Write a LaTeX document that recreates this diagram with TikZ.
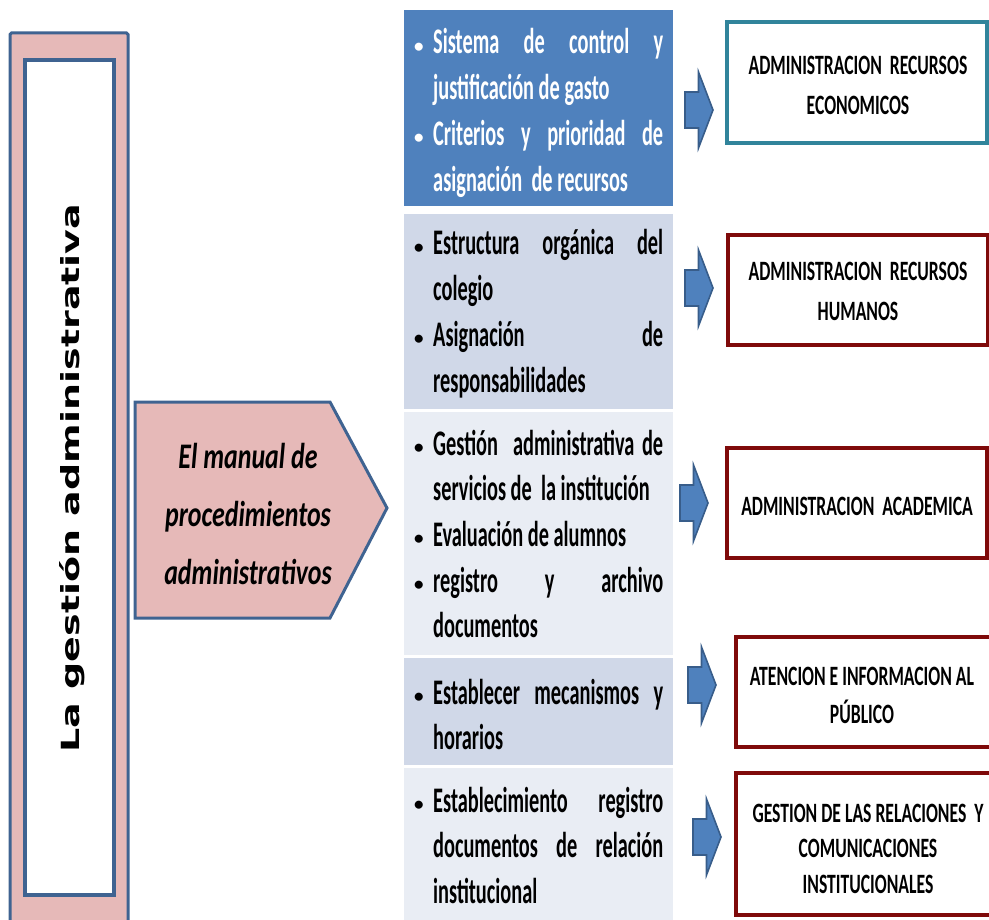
\documentclass[tikz,border=0pt]{standalone}
\usepackage{fontspec}
\setmainfont{Carlito}
\newfontfamily\panelfont[FakeStretch=0.565]{Carlito}
\newfontfamily\boxfont[FakeStretch=0.63]{Carlito}
\newfontfamily\pentfont[FakeStretch=0.72]{Carlito}
\newfontfamily\sidefont[FakeStretch=1.52]{DejaVu Sans}
\newfontfamily\bulletfont{Carlito}

\definecolor{navyedge}{HTML}{3F6391}
\definecolor{pinkfill}{HTML}{E6B9B8}
\definecolor{accblue}{HTML}{4F81BD}
\definecolor{banddark}{HTML}{D0D8E8}
\definecolor{bandlight}{HTML}{E9EDF4}
\definecolor{arrowedge}{HTML}{385D8A}
\definecolor{tealedge}{HTML}{31849B}
\definecolor{maroonedge}{HTML}{7F0A0A}

% bulleted line, continuation line and justified line inside a panel
\newcommand\smallbullet{{\bulletfont\fontsize{19}{19}\selectfont\raisebox{1.5pt}{\textbullet}}}
\newcommand\bl[1]{\hbox to 259pt{\hbox to 29pt{\hskip 10pt\smallbullet\hss}#1\hss}}
\newcommand\cl[1]{\hbox to 259pt{\hskip 29pt #1\hss}}
\newcommand\jl[1]{\makebox[230pt][s]{#1}}
\newcommand\plines[1]{\vtop{\baselineskip=45.7pt\lineskiplimit=-100pt\lineskip=0pt #1}}
% centred lines stacked at a fixed baseline distance
\newcommand\cln[1]{\hbox to 0pt{\hss#1\hss}}
\newcommand\clines[2]{\vtop{\baselineskip=#1\lineskiplimit=-100pt\lineskip=0pt #2}}

\tikzset{
  panel/.style={anchor=north west, inner sep=0pt, outer sep=0pt, minimum width=269pt},
  ptext/.style={anchor=base west, inner sep=0pt, font=\panelfont\bfseries\fontsize{36}{45.7}\selectfont},
  rbox/.style={draw, line width=4pt, fill=white, inner sep=0pt},
  btext/.style={anchor=base, inner sep=0pt, font=\boxfont\bfseries\fontsize{28}{38}\selectfont},
  blockarrow/.style={fill=accblue, draw=arrowedge, line width=1.6pt, line join=miter},
  barrow/.pic={\path[blockarrow] (-28,-18) -- (-14.5,-18) -- (-14.5,-38) -- (0,0)
      -- (-14.5,38) -- (-14.5,18) -- (-28,18) -- cycle;}
}

\begin{document}
\begin{tikzpicture}[x=1pt, y=-1pt]
\useasboundingbox (0,0) rectangle (989,920);

% side frame with the vertical title
\draw[fill=pinkfill, draw=navyedge, line width=3pt, rounded corners=1.5pt] (10,33) rectangle (128,930);
\draw[fill=white, draw=navyedge, line width=4pt] (25,60) rectangle (114,895);
\node[rotate=90, anchor=base, inner sep=0pt, font=\sidefont\bfseries\fontsize{25}{30}\selectfont]
  (title) at (79,478) {La gestión administrativa};

% pentagon with the manual title
\draw[fill=pinkfill, draw=navyedge, line width=3pt, line join=miter]
  (135,402) -- (330,402) -- (387,508) -- (330,618) -- (135,618) -- cycle;
\node[anchor=base, inner sep=0pt, font=\pentfont\bfseries\itshape\fontsize{36}{58}\selectfont]
  (manual) at (248,468) {\clines{58pt}{\cln{El manual de}\cln{procedimientos}\cln{administrativos}}};

% middle panels
\node[panel, fill=accblue, minimum height=196pt] (p1) at (404,10) {};
\node[panel, fill=banddark, minimum height=195pt] (p2) at (404,214) {};
\node[panel, fill=bandlight, minimum height=243pt] (p3) at (404,412) {};
\node[panel, fill=banddark, minimum height=107pt] (p4) at (404,658) {};
\node[panel, fill=bandlight, minimum height=160pt] (p5) at (404,768) {};

\node[ptext, text=white] (p1t) at (404,54) {\plines{%
  \bl{\jl{Sistema de control y}}
  \cl{justificación de gasto}
  \bl{\jl{Criterios y prioridad de}}
  \cl{asignación\ \ de recursos}}};
\node[ptext] (p2t) at (404,255) {\plines{%
  \bl{\jl{Estructura orgánica del}}
  \cl{colegio}
  \bl{\jl{Asignación de}}
  \cl{responsabilidades}}};
\node[ptext] (p3t) at (404,455) {\plines{%
  \bl{\jl{Gestión\ \ administrativa de}}
  \cl{servicios de\ \ la institución}
  \bl{Evaluación de alumnos}
  \bl{\jl{registro y archivo}}
  \cl{documentos}}};
\node[ptext] (p4t) at (404,704) {\plines{%
  \bl{\jl{Establecer mecanismos y}}
  \cl{horarios}}};
\node[ptext] (p5t) at (404,812) {\plines{%
  \bl{\jl{Establecimiento registro}}
  \cl{\jl{documentos de relación}}
  \cl{institucional}}};

% block arrows
\pic at (713,110) {barrow};
\pic at (713,288) {barrow};
\pic at (708,503) {barrow};
\pic at (716,685) {barrow};
\pic at (721,837) {barrow};

% right-hand boxes
\node[rbox, draw=tealedge, minimum width=260pt, minimum height=121pt] (b1) at (857,82.5) {};
\node[rbox, draw=maroonedge, minimum width=260pt, minimum height=110pt] (b2) at (858,290) {};
\node[rbox, draw=maroonedge, minimum width=260pt, minimum height=110pt] (b3) at (857,503) {};
\node[rbox, draw=maroonedge, minimum width=257pt, minimum height=110pt] (b4) at (864.5,692) {};
\node[rbox, draw=maroonedge, minimum width=257pt, minimum height=142pt] (b5) at (864.5,844) {};

\node[btext] (b1t) at (858,75) {\clines{40pt}{\cln{ADMINISTRACION\ \ RECURSOS}\cln{ECONOMICOS}}};
\node[btext] (b2t) at (858,281) {\clines{40pt}{\cln{ADMINISTRACION\ \ RECURSOS}\cln{HUMANOS}}};
\node[btext] (b3t) at (857,515) {\clines{40pt}{\cln{ADMINISTRACION\ \ ACADEMICA}}};
\node[btext] (b4t) at (862,685) {\clines{38pt}{\cln{ATENCION E INFORMACION AL}\cln{PÚBLICO}}};
\node[btext] (b5t) at (868,822) {\clines{35.5pt}{\cln{GESTION DE LAS RELACIONES\ \ Y}\cln{COMUNICACIONES}\cln{INSTITUCIONALES}}};
\end{tikzpicture}
\end{document}
